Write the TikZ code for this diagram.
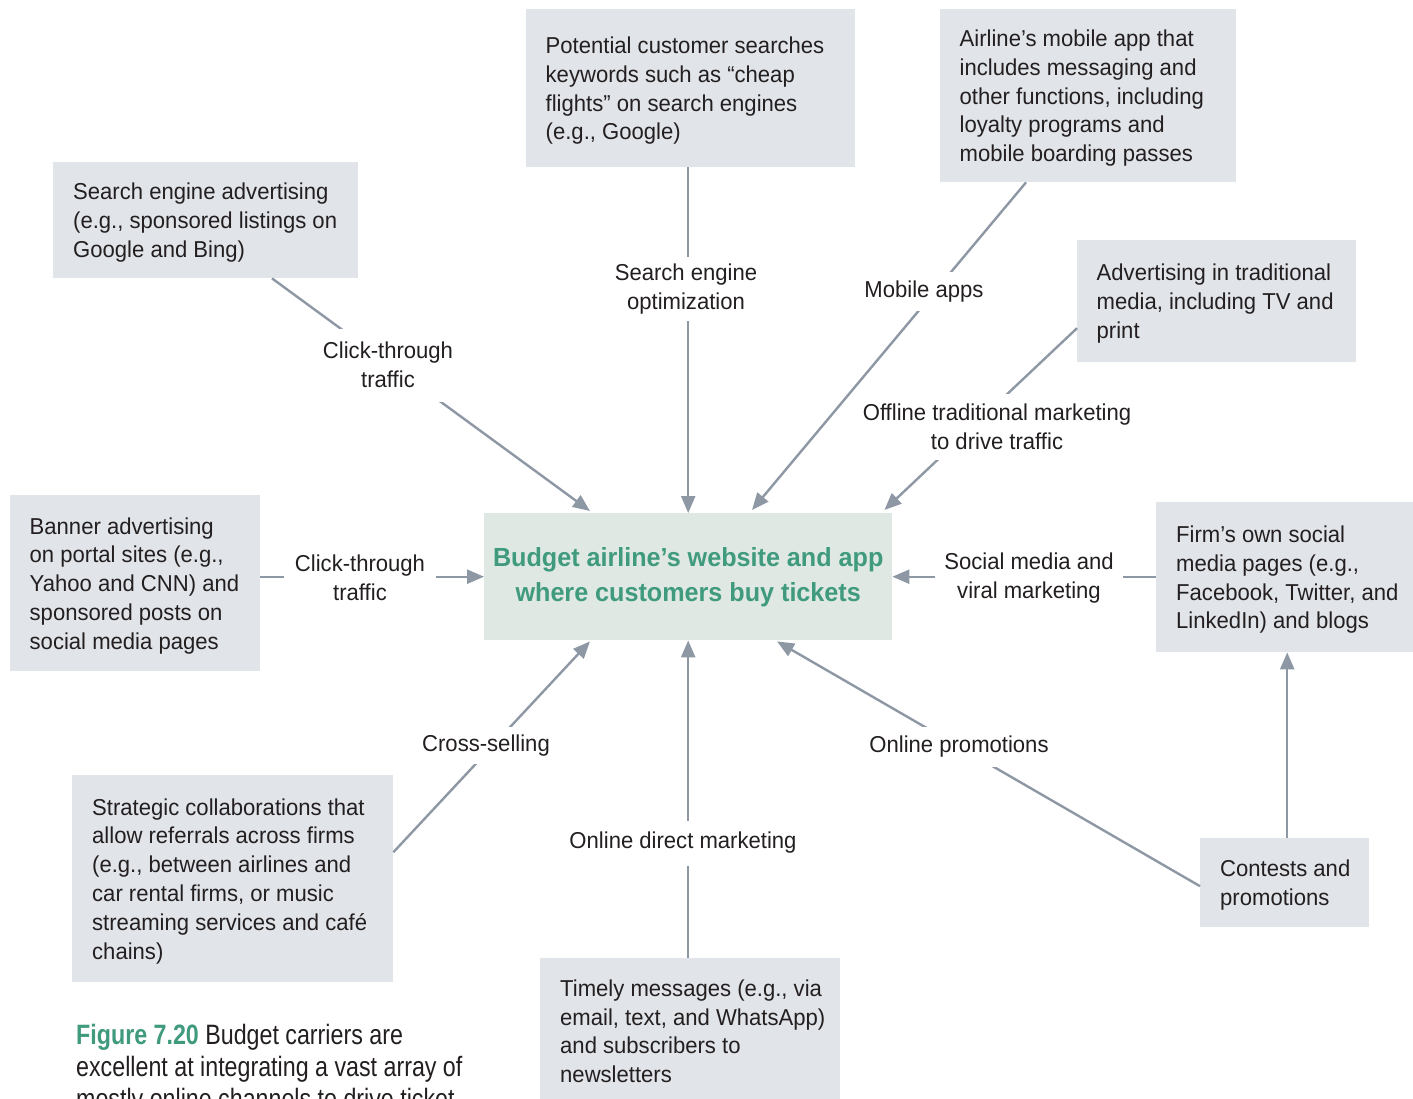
\documentclass[tikz,border=0pt]{standalone}
\usepackage{fontspec}
\setmainfont{Liberation Sans}[FakeStretch=0.96]
\newfontfamily\capfont{Liberation Sans}[FakeStretch=0.83]
\usetikzlibrary{arrows.meta}
\definecolor{boxgray}{HTML}{E1E4E8}
\definecolor{hubfill}{HTML}{DFE8E3}
\definecolor{hubgreen}{HTML}{3F9A7E}
\definecolor{linkgray}{HTML}{8E98A4}
\definecolor{inkblack}{HTML}{231F20}

\begin{document}
\begin{tikzpicture}[x=1pt,y=-1pt,
  panel/.style={fill=boxgray, draw=none, inner sep=0pt, anchor=north west},
  paneltext/.style={anchor=west, align=left, inner sep=0pt, text=inkblack, yshift=-2.5pt,
    font=\fontsize{23}{28.8}\selectfont},
  flowlabel/.style={fill=white, inner sep=0pt, align=center, text=inkblack,
    font=\fontsize{23}{29}\selectfont},
  link/.style={draw=linkgray, line width=2.4pt},
  feed/.style={link, -{Triangle[length=17pt,width=14pt]}},
]
\useasboundingbox (0,0) rectangle (1413,1099);
\clip (0,0) rectangle (1413,1099);
\fill[white] (0,0) rectangle (1413,1099);

% ---- channel boxes ----
\node[panel, minimum width=329pt, minimum height=158pt] (seo) at (526,9) {};
\node[paneltext] (seotext) at ([xshift=19.5pt]seo.west)
  {Potential customer searches\\keywords such as “cheap\\flights” on search engines\\(e.g., Google)};

\node[panel, minimum width=296pt, minimum height=173pt] (mob) at (940,9) {};
\node[paneltext] (mobtext) at ([xshift=19.5pt]mob.west)
  {Airline’s mobile app that\\includes messaging and\\other functions, including\\loyalty programs and\\mobile boarding passes};

\node[panel, minimum width=305pt, minimum height=116pt] (sea) at (53,162) {};
\node[paneltext] (seatext) at ([xshift=20pt]sea.west)
  {Search engine advertising\\(e.g., sponsored listings on\\Google and Bing)};

\node[panel, minimum width=279pt, minimum height=122pt] (trad) at (1077,240) {};
\node[paneltext] (tradtext) at ([xshift=19.5pt]trad.west)
  {Advertising in traditional\\media, including TV and\\print};

\node[panel, minimum width=250pt, minimum height=176pt] (ban) at (10,495) {};
\node[paneltext] (bantext) at ([xshift=19.5pt]ban.west)
  {Banner advertising\\on portal sites (e.g.,\\Yahoo and CNN) and\\sponsored posts on\\social media pages};

\node[panel, fill=hubfill, minimum width=408pt, minimum height=127pt] (hub) at (484,513) {};
\node[align=center, inner sep=0pt, text=hubgreen, font=\bfseries\fontsize{26.2}{35}\selectfont]
  (hubtext) at ([yshift=-1pt]hub.center) {Budget airline’s website and app\\where customers buy tickets};

\node[panel, minimum width=257pt, minimum height=150pt] (firm) at (1156,502) {};
\node[paneltext] (firmtext) at ([xshift=20pt]firm.west)
  {Firm’s own social\\media pages (e.g.,\\Facebook, Twitter, and\\LinkedIn) and blogs};

\node[panel, minimum width=321pt, minimum height=207pt] (strat) at (72,775) {};
\node[paneltext] (strattext) at ([xshift=20pt]strat.west)
  {Strategic collaborations that\\allow referrals across firms\\(e.g., between airlines and\\car rental firms, or music\\streaming services and café\\chains)};

\node[panel, minimum width=300pt, minimum height=141pt] (timely) at (540,958) {};
\node[paneltext] (timelytext) at ([xshift=20pt]timely.west)
  {Timely messages (e.g., via\\email, text, and WhatsApp)\\and subscribers to\\newsletters};

\node[panel, minimum width=169pt, minimum height=89pt] (cont) at (1200,838) {};
\node[paneltext] (conttext) at ([xshift=20pt]cont.west)
  {Contests and\\promotions};

% ---- connectors into the hub ----
\draw[feed] (hub.north |- seo.south) -- (hub.north);
\draw[feed] ([xshift=86pt]mob.south west) -- ([xshift=268pt,yshift=3pt]hub.north west);
\draw[feed] ([xshift=219pt]sea.south west) -- ([xshift=106pt,yshift=2pt]hub.north west);
\draw[feed] ([yshift=-27pt]trad.west) -- ([xshift=-8pt,yshift=3pt]hub.north east);
\draw[feed] (hub.west -| ban.east) -- (hub.west);
\draw[feed] (hub.east -| firm.west) -- (hub.east);
\draw[feed] ([yshift=26.5pt]strat.east) -- ([xshift=106pt,yshift=-1pt]hub.south west);
\draw[feed] (hub.south |- timely.north) -- (hub.south);
\draw[feed] ([yshift=-3.5pt]cont.west) -- ([xshift=293pt,yshift=-1pt]hub.south west);
\draw[feed] ([xshift=2.5pt]cont.north) -- ([xshift=2.5pt]cont.north |- firm.south);

% ---- connector labels ----
\node[flowlabel, minimum width=150pt, minimum height=63pt] (lseo) at (686,289) {Search engine\\optimization};
\node[flowlabel, minimum width=130pt, minimum height=38pt] (lmob) at (924,291.5) {Mobile apps};
\node[flowlabel, minimum width=140pt, minimum height=73pt] (lsea) at (388,365) {Click-through\\traffic};
\node[flowlabel, minimum width=280pt, minimum height=66pt] (ltrad) at (997,427) {Offline traditional marketing\\to drive traffic};
\node[flowlabel, minimum width=152pt, minimum height=60pt] (lban) at (360,578) {Click-through\\traffic};
\node[flowlabel, minimum width=188pt, minimum height=60pt] (lfirm) at (1029,578) {Social media and\\viral marketing};
\node[flowlabel, minimum width=130pt, minimum height=37pt] (lstrat) at (486,745.5) {Cross-selling};
\node[flowlabel, minimum width=230pt, minimum height=45pt] (ltimely) at (683,843) {Online direct marketing};
\node[flowlabel, minimum width=180pt, minimum height=40pt] (lcont) at (959,747) {Online promotions};

% ---- caption (runs on past the lower edge) ----
\node[anchor=base west, align=left, inner sep=0pt, text=inkblack,
  font=\capfont\fontsize{28}{32}\selectfont] (caption) at (76,1108)
  {{\bfseries\color{hubgreen}Figure 7.20} Budget carriers are\\excellent at integrating a vast array of\\mostly online channels to drive ticket};
\end{tikzpicture}
\end{document}
